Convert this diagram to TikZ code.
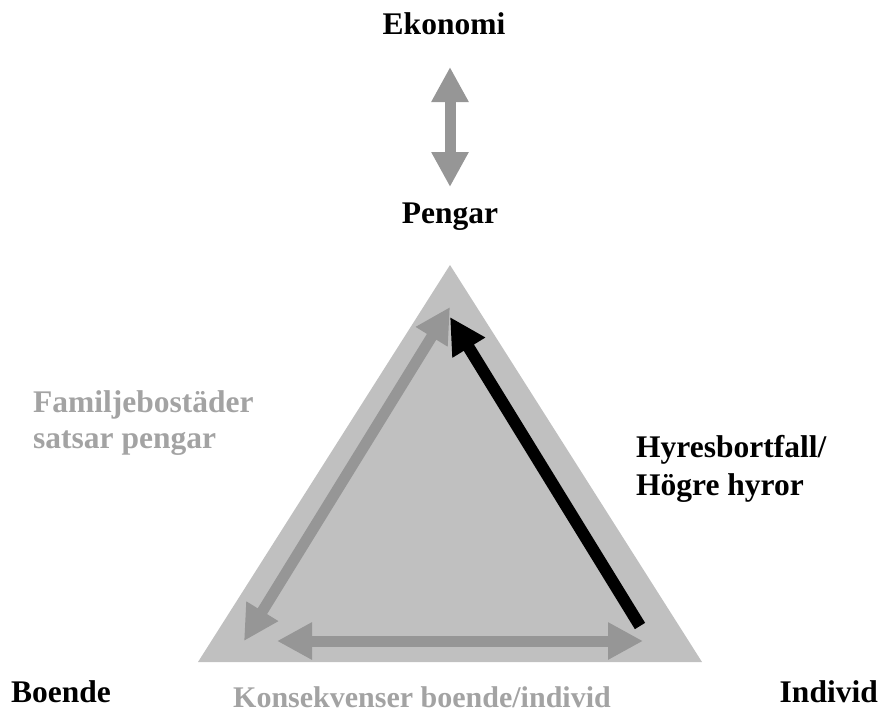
\documentclass[tikz,border=0pt]{standalone}
\usepackage{fontspec}
\setmainfont{Liberation Serif}
\usetikzlibrary{arrows.meta}
\definecolor{trifill}{RGB}{192,192,192}
\definecolor{arrgray}{RGB}{150,150,150}
\definecolor{txtgray}{RGB}{163,163,163}
\begin{document}
\begin{tikzpicture}[x=1pt,y=-1pt,
  lbl/.style={font=\fontsize{31.5}{38}\selectfont\bfseries, inner sep=0pt},
  fatboth/.style={line width=11pt, arrgray, arrows={Triangle[length=35pt,width=35pt]-Triangle[length=35pt,width=35pt]}},
  blk/.style={line width=12pt, black, arrows={-Triangle[length=36pt,width=36pt]}}]
\useasboundingbox (0,0) rectangle (879,710);
% triangle
\coordinate (apex) at (450,265);
\coordinate (bl) at (198,662);
\coordinate (br) at (702,662);
\fill[trifill] (apex) -- (bl) -- (br) -- cycle;
% top double arrow
\coordinate (ua) at (450,67);
\coordinate (ub) at (450,187);
\draw[fatboth] (ua) -- (ub);
% left edge double arrow
\coordinate (la) at (450,307);
\coordinate (lb) at (244,641);
\draw[fatboth] (la) -- (lb);
% bottom double arrow
\coordinate (ba) at (277,641);
\coordinate (bb) at (643,641);
\draw[fatboth] (ba) -- (bb);
% black arrow
\coordinate (ka) at (640,626);
\coordinate (kb) at (450,317);
\draw[blk] (ka) -- (kb);
% labels
\node[lbl, anchor=base] (ekonomi) at (444,34) {Ekonomi};
\node[lbl, anchor=base] (pengar) at (450,223) {Pengar};
\node[lbl, txtgray, anchor=base west] (fam1) at (33,412) {Familjebostäder};
\node[lbl, txtgray, anchor=base west] (fam2) at (33,448) {satsar pengar};
\node[lbl, anchor=base west] (hyr1) at (636,457) {Hyresbortfall/};
\node[lbl, anchor=base west] (hyr2) at (636,495) {Högre hyror};
\node[lbl, anchor=base west] (boende) at (11,702) {Boende};
\node[lbl, anchor=base east] (individ) at (878,702) {Individ};
\node[lbl, txtgray, anchor=base, font=\fontsize{30}{36}\selectfont\bfseries] (kons) at (422,707) {Konsekvenser boende/individ};
\end{tikzpicture}
\end{document}
